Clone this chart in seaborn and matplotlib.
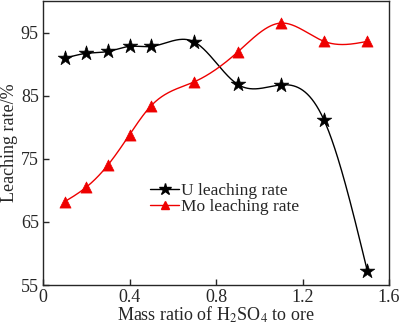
import numpy as np
import pandas as pd
import matplotlib
matplotlib.use("Agg")
import matplotlib.pyplot as plt
from matplotlib.lines import Line2D
import seaborn as sns

ratio = [0.1, 0.2, 0.3, 0.4, 0.5, 0.7, 0.9, 1.1, 1.3, 1.5]
u_rate = [90.9, 91.7, 92.0, 92.8, 92.8, 93.5, 86.8, 86.7, 81.1, 57.2]
mo_rate = [68.2, 70.5, 74.0, 78.8, 83.4, 87.2, 91.9, 96.5, 93.6, 93.6]
x_ticks = [0, 0.4, 0.8, 1.2, 1.6]
y_ticks = [55, 65, 75, 85, 95]


def natural_spline(x, y, n=400):
    """Smooth curve through the measured points (natural cubic spline)."""
    x = np.asarray(x, float)
    y = np.asarray(y, float)
    k = len(x)
    h = np.diff(x)
    A = np.zeros((k, k))
    b = np.zeros(k)
    A[0, 0] = A[-1, -1] = 1
    for i in range(1, k - 1):
        A[i, i - 1] = h[i - 1]
        A[i, i] = 2 * (h[i - 1] + h[i])
        A[i, i + 1] = h[i]
        b[i] = 6 * ((y[i + 1] - y[i]) / h[i] - (y[i] - y[i - 1]) / h[i - 1])
    m = np.linalg.solve(A, b)
    xs = np.linspace(x[0], x[-1], n)
    idx = np.clip(np.searchsorted(x, xs) - 1, 0, k - 2)
    x0, x1 = x[idx], x[idx + 1]
    hh = x1 - x0
    t0, t1 = x1 - xs, xs - x0
    ys = (m[idx] * t0 ** 3 / (6 * hh) + m[idx + 1] * t1 ** 3 / (6 * hh)
          + (y[idx] / hh - m[idx] * hh / 6) * t0
          + (y[idx + 1] / hh - m[idx + 1] * hh / 6) * t1)
    return xs, ys


sns.set_style("ticks")
plt.rcParams["font.family"] = ["Liberation Serif", "DejaVu Serif"]
plt.rcParams["mathtext.fontset"] = "stix"
plt.rcParams["xtick.direction"] = "in"
plt.rcParams["ytick.direction"] = "in"

fig = plt.figure(figsize=(4, 3.25), dpi=100)
ax = fig.add_axes([0.1075, 0.123, 0.865, 0.874])

series = [("U leaching rate", u_rate, "black", "*", 11),
          ("Mo leaching rate", mo_rate, "#ee0000", "^", 8)]
handles = []
for name, vals, color, marker, ms in series:
    xs, ys = natural_spline(ratio, vals)
    sns.lineplot(x=xs, y=ys, ax=ax, color=color, lw=1.0, legend=False)
    pts = pd.DataFrame({"ratio": ratio, "rate": vals})
    sns.scatterplot(data=pts, x="ratio", y="rate", ax=ax, color=color,
                    marker=marker, s=ms ** 2, edgecolor=color, linewidth=0.5,
                    legend=False, zorder=3)
    handles.append(Line2D([], [], color=color, lw=1.0, marker=marker,
                          markersize=ms * 0.8, label=name))

ax.set_xlim(0, 1.6)
ax.set_ylim(55, 100)
ax.set_xticks(x_ticks)
ax.set_xticklabels(["0", "0.4", "0.8", "1.2", "1.6"])
ax.set_yticks(y_ticks)
ax.tick_params(labelsize=13, length=4, width=1, pad=3)
for s in ax.spines.values():
    s.set_linewidth(1.0)

ax.set_xlabel(r"Mass ratio of H$_2$SO$_4$ to ore", fontsize=13, labelpad=-1)
ax.set_ylabel("Leaching rate/%", fontsize=13, labelpad=2)

ax.legend(handles=handles, loc="upper left", bbox_to_anchor=(0.285, 0.39),
          frameon=False, fontsize=12.5, handlelength=1.65, handletextpad=0.1,
          labelspacing=0.0, borderpad=0)

fig.savefig("out.png", dpi=100)
